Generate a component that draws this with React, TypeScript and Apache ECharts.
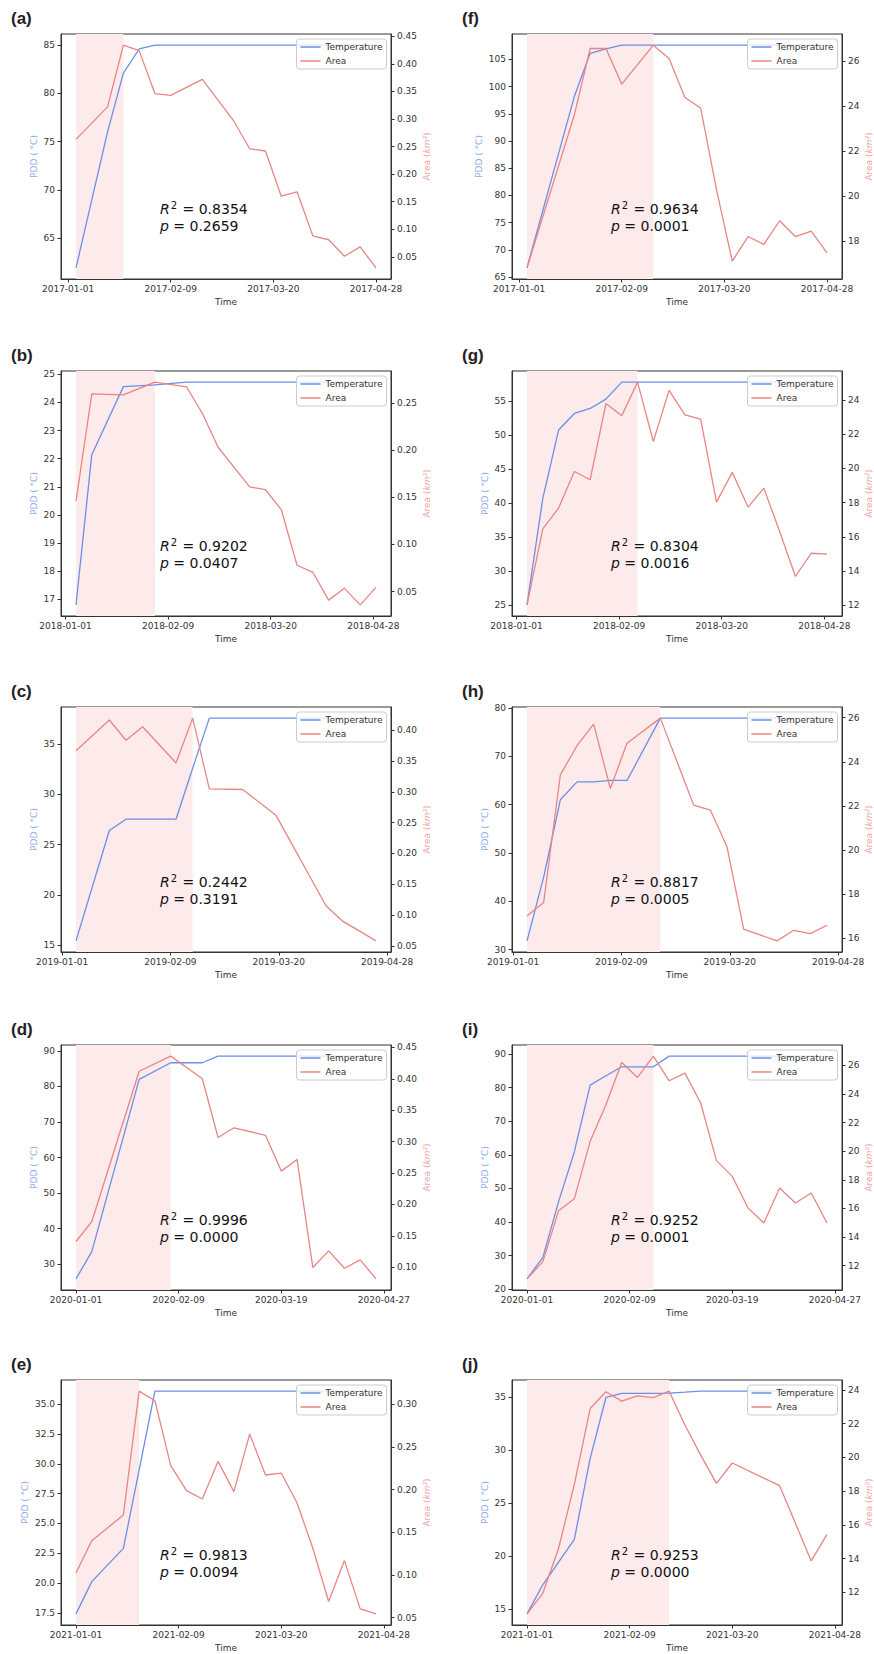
import React, { useEffect, useRef } from "react";
import * as echarts from "echarts";

// ---------- DATA ----------
const datesA = ["2017-01-04","2017-01-16","2017-01-22","2017-01-28","2017-02-03","2017-02-09","2017-02-21","2017-03-05","2017-03-11","2017-03-17","2017-03-23","2017-03-29","2017-04-04","2017-04-10","2017-04-16","2017-04-22","2017-04-28"];
const pddA = [61.9, 76.0, 82.1, 84.6, 85.0, 85.0, 85.0, 85.0, 85.0, 85.0, 85.0, 85.0, 85.0, 85.0, 85.0, 85.0, 85.0];
const areaA = [0.263, 0.322, 0.434, 0.424, 0.346, 0.343, 0.372, 0.296, 0.246, 0.242, 0.160, 0.168, 0.088, 0.081, 0.051, 0.068, 0.030];

const datesB = ["2018-01-05","2018-01-11","2018-01-23","2018-02-04","2018-02-16","2018-02-22","2018-02-28","2018-03-12","2018-03-18","2018-03-24","2018-03-30","2018-04-05","2018-04-11","2018-04-17","2018-04-23","2018-04-29"];
const pddB = [16.8, 22.14, 24.56, 24.62, 24.72, 24.72, 24.72, 24.72, 24.72, 24.72, 24.72, 24.72, 24.72, 24.72, 24.72, 24.72];
const areaB = [0.146, 0.2595, 0.2585, 0.272, 0.267, 0.239, 0.203, 0.161, 0.158, 0.137, 0.078, 0.0705, 0.041, 0.0535, 0.036, 0.0546];

const datesC = ["2019-01-06","2019-01-18","2019-01-24","2019-01-30","2019-02-11","2019-02-17","2019-02-23","2019-03-07","2019-03-19","2019-04-06","2019-04-12","2019-04-24"];
const pddC = [15.43, 26.4, 27.53, 27.53, 27.53, 32.6, 37.58, 37.58, 37.58, 37.58, 37.58, 37.58];
const areaC = [0.367, 0.417, 0.384, 0.406, 0.347, 0.420, 0.305, 0.304, 0.262, 0.115, 0.090, 0.058];

const datesD = ["2020-01-01","2020-01-07","2020-01-25","2020-02-06","2020-02-18","2020-02-24","2020-03-01","2020-03-13","2020-03-19","2020-03-25","2020-03-31","2020-04-06","2020-04-12","2020-04-18","2020-04-24"];
const pddD = [25.89, 33.55, 81.96, 86.64, 86.64, 88.5, 88.5, 88.5, 88.5, 88.5, 88.5, 88.5, 88.5, 88.5, 88.5];
const areaD = [0.141, 0.1725, 0.412, 0.436, 0.400, 0.3065, 0.322, 0.310, 0.253, 0.2716, 0.0995, 0.126, 0.0984, 0.1117, 0.0815];

const datesE = ["2021-01-01","2021-01-07","2021-01-19","2021-01-25","2021-01-31","2021-02-06","2021-02-12","2021-02-18","2021-02-24","2021-03-02","2021-03-08","2021-03-14","2021-03-20","2021-03-26","2021-04-01","2021-04-07","2021-04-13","2021-04-19","2021-04-25"];
const pddE = [17.42, 20.12, 22.91, 29.5, 36.09, 36.09, 36.09, 36.09, 36.09, 36.09, 36.09, 36.09, 36.09, 36.09, 36.09, 36.09, 36.09, 36.09, 36.09];
const areaE = [0.1023, 0.1402, 0.1703, 0.3156, 0.3043, 0.2281, 0.1988, 0.1891, 0.2332, 0.1977, 0.2652, 0.2172, 0.2195, 0.1844, 0.1313, 0.0688, 0.1168, 0.0602, 0.0543];

const datesF = ["2017-01-04","2017-01-22","2017-01-28","2017-02-03","2017-02-09","2017-02-21","2017-02-27","2017-03-05","2017-03-11","2017-03-17","2017-03-23","2017-03-29","2017-04-04","2017-04-10","2017-04-16","2017-04-22","2017-04-28"];
const pddF = [66.7, 98.2, 106.1, 106.9, 107.6, 107.6, 107.6, 107.6, 107.6, 107.6, 107.6, 107.6, 107.6, 107.6, 107.6, 107.6, 107.6];
const areaF = [16.83, 23.62, 26.56, 26.56, 24.98, 26.71, 26.12, 24.39, 23.92, 20.30, 17.13, 18.22, 17.87, 18.92, 18.22, 18.46, 17.50];

const datesG = ["2018-01-05","2018-01-11","2018-01-17","2018-01-23","2018-01-29","2018-02-04","2018-02-10","2018-02-16","2018-02-22","2018-02-28","2018-03-06","2018-03-12","2018-03-18","2018-03-24","2018-03-30","2018-04-05","2018-04-11","2018-04-17","2018-04-23","2018-04-29"];
const pddG = [25.0, 40.66, 50.7, 53.14, 53.87, 55.24, 57.74, 57.74, 57.74, 57.74, 57.74, 57.74, 57.74, 57.74, 57.74, 57.74, 57.74, 57.74, 57.74, 57.74];
const areaG = [12.02, 16.47, 17.68, 19.82, 19.34, 23.80, 23.08, 25.05, 21.58, 24.57, 23.14, 22.89, 18.03, 19.77, 17.74, 18.85, 16.31, 13.68, 15.04, 14.99];

const datesH = ["2019-01-06","2019-01-12","2019-01-18","2019-01-24","2019-01-30","2019-02-05","2019-02-11","2019-02-23","2019-03-07","2019-03-13","2019-03-19","2019-03-25","2019-04-06","2019-04-12","2019-04-18","2019-04-24"];
const pddH = [31.8, 45.0, 61.0, 64.7, 64.7, 65.0, 65.0, 77.9, 77.9, 77.9, 77.9, 77.9, 77.9, 77.9, 77.9, 77.9];
const areaH = [17.01, 17.62, 23.40, 24.73, 25.71, 22.79, 24.84, 25.98, 22.04, 21.81, 20.15, 16.41, 15.88, 16.36, 16.21, 16.59];

const datesI = ["2020-01-01","2020-01-07","2020-01-13","2020-01-19","2020-01-25","2020-01-31","2020-02-06","2020-02-12","2020-02-18","2020-02-24","2020-03-01","2020-03-07","2020-03-13","2020-03-19","2020-03-25","2020-03-31","2020-04-06","2020-04-12","2020-04-18","2020-04-24"];
const pddI = [23.08, 29.42, 46.08, 60.95, 80.78, 83.56, 86.23, 86.23, 86.23, 89.4, 89.4, 89.4, 89.4, 89.4, 89.4, 89.4, 89.4, 89.4, 89.4, 89.4];
const areaI = [11.07, 12.26, 15.84, 16.68, 20.69, 23.25, 26.21, 25.16, 26.65, 24.93, 25.46, 23.37, 19.34, 18.24, 16.03, 14.98, 17.43, 16.38, 17.08, 14.98];

const datesJ = ["2021-01-01","2021-01-07","2021-01-13","2021-01-19","2021-01-25","2021-01-31","2021-02-06","2021-02-12","2021-02-18","2021-02-24","2021-03-02","2021-03-08","2021-03-14","2021-03-20","2021-04-07","2021-04-19","2021-04-25"];
const pddJ = [14.53, 17.28, 19.43, 21.58, 29.24, 35.0, 35.38, 35.38, 35.38, 35.41, 35.5, 35.6, 35.6, 35.6, 35.6, 35.6, 35.6];
const areaJ = [10.72, 11.94, 14.61, 18.40, 22.89, 23.88, 23.33, 23.64, 23.53, 23.92, 21.91, 20.13, 18.45, 19.66, 18.32, 13.86, 15.43];

// shaded periods [start, end]
const shadeA = ["2017-01-04", "2017-01-22"];
const shadeB = ["2018-01-05", "2018-02-04"];
const shadeC = ["2019-01-06", "2019-02-17"];
const shadeD = ["2020-01-01", "2020-02-06"];
const shadeE = ["2021-01-01", "2021-01-25"];
const shadeF = ["2017-01-04", "2017-02-21"];
const shadeG = ["2018-01-05", "2018-02-16"];
const shadeH = ["2019-01-06", "2019-02-23"];
const shadeI = ["2020-01-01", "2020-02-18"];
const shadeJ = ["2021-01-01", "2021-02-24"];

// x tick labels
const xTicks2017 = ["2017-01-01", "2017-02-09", "2017-03-20", "2017-04-28"];
const xTicks2018 = ["2018-01-01", "2018-02-09", "2018-03-20", "2018-04-28"];
const xTicks2019 = ["2019-01-01", "2019-02-09", "2019-03-20", "2019-04-28"];
const xTicks2020 = ["2020-01-01", "2020-02-09", "2020-03-19", "2020-04-27"];
const xTicks2021 = ["2021-01-01", "2021-02-09", "2021-03-20", "2021-04-28"];

// y tick labels
const pddTicksA = ["65", "70", "75", "80", "85"];
const areaTicksA = ["0.05", "0.10", "0.15", "0.20", "0.25", "0.30", "0.35", "0.40", "0.45"];
const pddTicksB = ["17", "18", "19", "20", "21", "22", "23", "24", "25"];
const areaTicksB = ["0.05", "0.10", "0.15", "0.20", "0.25"];
const pddTicksC = ["15", "20", "25", "30", "35"];
const areaTicksC = ["0.05", "0.10", "0.15", "0.20", "0.25", "0.30", "0.35", "0.40"];
const pddTicksD = ["30", "40", "50", "60", "70", "80", "90"];
const areaTicksD = ["0.10", "0.15", "0.20", "0.25", "0.30", "0.35", "0.40", "0.45"];
const pddTicksE = ["17.5", "20.0", "22.5", "25.0", "27.5", "30.0", "32.5", "35.0"];
const areaTicksE = ["0.05", "0.10", "0.15", "0.20", "0.25", "0.30"];
const pddTicksF = ["65", "70", "75", "80", "85", "90", "95", "100", "105"];
const areaTicksF = ["18", "20", "22", "24", "26"];
const pddTicksG = ["25", "30", "35", "40", "45", "50", "55"];
const areaTicksG = ["12", "14", "16", "18", "20", "22", "24"];
const pddTicksH = ["30", "40", "50", "60", "70", "80"];
const areaTicksH = ["16", "18", "20", "22", "24", "26"];
const pddTicksI = ["20", "30", "40", "50", "60", "70", "80", "90"];
const areaTicksI = ["12", "14", "16", "18", "20", "22", "24", "26"];
const pddTicksJ = ["15", "20", "25", "30", "35"];
const areaTicksJ = ["12", "14", "16", "18", "20", "22", "24"];

const panelLabels = ["(a)", "(b)", "(c)", "(d)", "(e)", "(f)", "(g)", "(h)", "(i)", "(j)"];
const r2Values = ["0.8354", "0.9202", "0.2442", "0.9996", "0.9813", "0.9634", "0.8304", "0.8817", "0.9252", "0.9253"];
const pValues = ["0.2659", "0.0407", "0.3191", "0.0000", "0.0094", "0.0001", "0.0016", "0.0005", "0.0001", "0.0000"];

// ---------- STYLE / LAYOUT ----------
const BLUE = "#6b8fe6";
const RED = "#e88585";
const BLUE_LABEL = "#8eaeea";
const RED_LABEL = "#f0a3a3";
const SHADE = "#fdeaea";
const INK = "#333333";
const FONT = "DejaVu Sans";
const W = 330;
const H = 245;
const COLS = [61, 512];
const ROWS = [34, 371, 707, 1045, 1380];
const TOTAL_W = 874;
const TOTAL_H = 1654;

const dayOf = (s: string) => {
  const [y, m, d] = s.split("-").map(Number);
  return (Date.UTC(y, m - 1, d) - Date.UTC(y, 0, 1)) / 86400000;
};

const textW = (s: string) => {
  let w = 0;
  for (const c of s) w += c === "." ? 2.86 : c === "-" ? 3.25 : 5.73;
  return w;
};

const panels = [
  { dates: datesA, pdd: pddA, area: areaA, shade: shadeA, xt: xTicks2017, pt: pddTicksA, at: areaTicksA },
  { dates: datesB, pdd: pddB, area: areaB, shade: shadeB, xt: xTicks2018, pt: pddTicksB, at: areaTicksB },
  { dates: datesC, pdd: pddC, area: areaC, shade: shadeC, xt: xTicks2019, pt: pddTicksC, at: areaTicksC },
  { dates: datesD, pdd: pddD, area: areaD, shade: shadeD, xt: xTicks2020, pt: pddTicksD, at: areaTicksD },
  { dates: datesE, pdd: pddE, area: areaE, shade: shadeE, xt: xTicks2021, pt: pddTicksE, at: areaTicksE },
  { dates: datesF, pdd: pddF, area: areaF, shade: shadeF, xt: xTicks2017, pt: pddTicksF, at: areaTicksF },
  { dates: datesG, pdd: pddG, area: areaG, shade: shadeG, xt: xTicks2018, pt: pddTicksG, at: areaTicksG },
  { dates: datesH, pdd: pddH, area: areaH, shade: shadeH, xt: xTicks2019, pt: pddTicksH, at: areaTicksH },
  { dates: datesI, pdd: pddI, area: areaI, shade: shadeI, xt: xTicks2020, pt: pddTicksI, at: areaTicksI },
  { dates: datesJ, pdd: pddJ, area: areaJ, shade: shadeJ, xt: xTicks2021, pt: pddTicksJ, at: areaTicksJ },
];

const padRange = (vals: number[]) => {
  const lo = Math.min(...vals);
  const hi = Math.max(...vals);
  const m = (hi - lo) * 0.05;
  return [lo - m, hi + m];
};

const labelFormatter = (labels: string[]) => (v: number) => {
  for (const l of labels) if (Math.abs(parseFloat(l) - v) < 1e-9) return l;
  return "";
};

function buildOption() {
  const grid: any[] = [];
  const xAxis: any[] = [];
  const yAxis: any[] = [];
  const series: any[] = [];
  const legend: any[] = [];
  const graphic: any[] = [];
  const tickText = { fontSize: 9, color: INK, fontFamily: FONT };

  panels.forEach((p, i) => {
    const col = i < 5 ? 0 : 1;
    const row = i % 5;
    const left = COLS[col];
    const top = ROWS[row];
    const xs = p.dates.map(dayOf);
    const [xmin, xmax] = padRange(xs);
    const [pmin, pmax] = padRange(p.pdd);
    const [amin, amax] = padRange(p.area);
    const xtv = p.xt.map(dayOf);
    const xtLabel = (v: number) => {
      const k = xtv.findIndex((t) => Math.abs(t - v) < 1e-9);
      return k >= 0 ? p.xt[k] : "";
    };
    const ptv = p.pt.map(parseFloat);
    const atv = p.at.map(parseFloat);
    const pddGap = 11 + Math.max(...p.pt.map(textW));
    const areaGap = 11 + Math.max(...p.at.map(textW));

    grid.push({
      left, top, width: W, height: H,
      show: true, borderColor: INK, borderWidth: 1, backgroundColor: "transparent",
      containLabel: false, outerBoundsMode: "none",
    });

    xAxis.push({
      type: "value", gridIndex: i, min: xmin, max: xmax,
      axisLine: { show: true, onZero: false, lineStyle: { color: INK, width: 1 } },
      axisTick: { show: true, length: 3.5, customValues: xtv, lineStyle: { color: INK } },
      axisLabel: { ...tickText, margin: 5, customValues: xtv, formatter: xtLabel, hideOverlap: false },
      splitLine: { show: false },
      name: "Time", nameLocation: "middle", nameGap: 18,
      nameTextStyle: { ...tickText },
      nameMoveOverlap: false,
    });

    yAxis.push({
      type: "value", gridIndex: i, position: "left", min: pmin, max: pmax,
      axisLine: { show: true, onZero: false, lineStyle: { color: INK, width: 1 } },
      axisTick: { show: true, length: 3.5, customValues: ptv, lineStyle: { color: INK } },
      axisLabel: { ...tickText, margin: 6, customValues: ptv, formatter: labelFormatter(p.pt), hideOverlap: false },
      splitLine: { show: false },
      name: "PDD ( °C)", nameLocation: "middle", nameRotate: 90, nameGap: pddGap,
      nameTextStyle: { fontSize: 9, color: BLUE_LABEL, fontFamily: FONT },
      nameMoveOverlap: false,
    });
    yAxis.push({
      type: "value", gridIndex: i, position: "right", min: amin, max: amax,
      axisLine: { show: true, onZero: false, lineStyle: { color: INK, width: 1 } },
      axisTick: { show: true, length: 3.5, customValues: atv, lineStyle: { color: INK } },
      axisLabel: { ...tickText, margin: 6, customValues: atv, formatter: labelFormatter(p.at), hideOverlap: false },
      splitLine: { show: false },
      name: "Area ({i|km²})", nameLocation: "middle", nameRotate: 90, nameGap: areaGap,
      nameTextStyle: {
        fontSize: 9, color: RED_LABEL, fontFamily: FONT,
        rich: { i: { fontSize: 9, color: RED_LABEL, fontFamily: FONT, fontStyle: "italic" } },
      },
      nameMoveOverlap: false,
    });

    series.push({
      type: "line", name: "Temperature", xAxisIndex: i, yAxisIndex: 2 * i,
      data: xs.map((x, k) => [x, p.pdd[k]]),
      symbol: "none", showSymbol: false, z: 3,
      lineStyle: { color: BLUE, width: 1.3 }, itemStyle: { color: BLUE },
      markArea: {
        silent: true, z: 1,
        itemStyle: { color: SHADE, borderWidth: 0 },
        data: [[{ xAxis: dayOf(p.shade[0]) }, { xAxis: dayOf(p.shade[1]) }]],
      },
    });
    series.push({
      type: "line", name: "Area", xAxisIndex: i, yAxisIndex: 2 * i + 1,
      data: xs.map((x, k) => [x, p.area[k]]),
      symbol: "none", showSymbol: false, z: 4,
      lineStyle: { color: RED, width: 1.3 }, itemStyle: { color: RED },
    });

    legend.push({
      show: true, orient: "vertical", selectedMode: false,
      right: TOTAL_W - (left + W - 4.5), top: top + 5,
      data: ["Temperature", "Area"],
      icon: "rect", itemWidth: 20, itemHeight: 1.5, itemGap: 4,
      padding: [3, 4, 3, 4],
      backgroundColor: "rgba(255,255,255,0.8)", borderColor: "#cccccc", borderWidth: 1, borderRadius: 3,
      textStyle: { fontSize: 9, color: INK, fontFamily: FONT, lineHeight: 10 },
      z: 10,
    });

    const labelX = col === 0 ? 11 : 462;
    graphic.push({
      type: "text", x: labelX, y: top - 16, z: 20,
      style: {
        text: panelLabels[i], fill: "#222", fontSize: 17, fontWeight: "bold",
        fontFamily: "Liberation Sans", verticalAlign: "middle",
      },
    });
    const rich = {
      it: { fontStyle: "italic", fontSize: 14, fontFamily: FONT, fill: "#111", lineHeight: 18 },
      sup: { fontSize: 10, fontFamily: FONT, fill: "#111", lineHeight: 11, verticalAlign: "top", padding: [0, 1, 0, 1] },
      n: { fontSize: 14, fontFamily: FONT, fill: "#111", lineHeight: 18 },
    };
    graphic.push({
      type: "text", x: left + 99, y: top + 175, z: 20,
      style: {
        text: "{it|R}{sup|2}{n| = " + r2Values[i] + "}", fill: "#111", fontSize: 14, fontFamily: FONT,
        lineHeight: 18, verticalAlign: "middle", rich,
      },
    });
    graphic.push({
      type: "text", x: left + 99, y: top + 192, z: 20,
      style: {
        text: "{it|p}{n| = " + pValues[i] + "}", fill: "#111", fontSize: 14, fontFamily: FONT,
        lineHeight: 18, verticalAlign: "middle", rich,
      },
    });
  });

  return {
    animation: false,
    backgroundColor: "#ffffff",
    grid, xAxis, yAxis, series, legend, graphic,
  };
}

export default function App() {
  const ref = useRef<HTMLDivElement>(null);
  useEffect(() => {
    if (!ref.current) return;
    const chart = echarts.init(ref.current, null, { renderer: "svg" });
    chart.setOption(buildOption() as any);
    return () => chart.dispose();
  }, []);
  return (
    <div
      ref={ref}
      style={{ position: "absolute", left: 0, top: 0, width: TOTAL_W, height: TOTAL_H, background: "#fff" }}
    />
  );
}
